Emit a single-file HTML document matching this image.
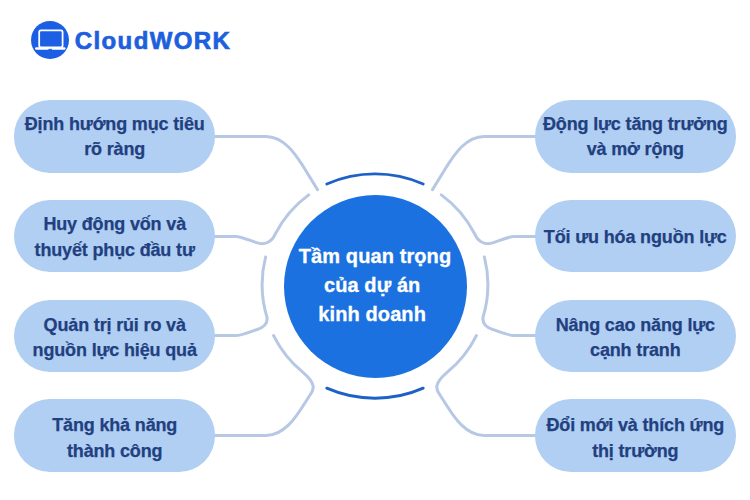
<!DOCTYPE html>
<html><head><meta charset="utf-8">
<style>
html,body{margin:0;padding:0;background:#fff;}
body{width:750px;height:500px;position:relative;overflow:hidden;font-family:"Liberation Sans",sans-serif;}
svg{position:absolute;left:0;top:0;}
.box{position:absolute;width:200.6px;height:72.4px;border-radius:36px;background:#b0cff3;color:#22407f;font-weight:bold;font-size:18px;letter-spacing:-0.16px;-webkit-text-stroke:0.25px #22407f;}
.ln{position:absolute;left:0;right:0;top:0;line-height:20px;text-align:center;white-space:nowrap;}
.l{left:14.4px;}
.r{left:535px;}
.center{position:absolute;left:283.5px;top:194.5px;width:183px;height:183px;border-radius:50%;background:#1b71df;color:#fff;font-weight:bold;font-size:20px;line-height:29px;letter-spacing:0.1px;-webkit-text-stroke:0.3px #fff;display:flex;align-items:center;justify-content:center;text-align:center;}
.logo{position:absolute;left:30.6px;top:20.9px;width:38.6px;height:38.6px;border-radius:50%;background:#1d5fe4;}
.brand{position:absolute;left:74.8px;top:29.2px;font-size:24px;line-height:24px;font-weight:bold;color:#1d5fdd;letter-spacing:1.38px;white-space:nowrap;-webkit-text-stroke:0.7px #1d5fdd;}
</style></head>
<body>
<svg width="750" height="500" viewBox="0 0 750 500">
  <g fill="none" stroke="#b6c8e4" stroke-width="3" stroke-linecap="round" stroke-linejoin="round">
    <g id="left">
      <path d="M215 136.4 L266 136.4 C285 136.4 297.1 156.9 303.6 167 L317.5 189.6"/>
      <path d="M215 236.4 L236 236.4 C240 236.4 244 238.2 256.6 242.7 C265 245.6 272.3 241.5 275.3 233.9 A112.5 112.5 0 0 1 308.7 194.9"/>
      <path d="M215 335.6 L236 335.6 C240 335.6 244 334 256.6 329.7 C264.6 327.3 268 323 266.9 317 A112.5 112.5 0 0 1 265.6 257"/>
      <path d="M215 435.5 L266 435.5 C285 435.5 297.1 415.1 303.6 405 L310.5 394.2 C312.9 390.5 317.9 385 302.7 372.2 A112.5 112.5 0 0 1 273.6 335.6"/>
    </g>
    <g transform="translate(750 0) scale(-1 1)">
      <path d="M215 136.4 L266 136.4 C285 136.4 297.1 156.9 303.6 167 L317.5 189.6"/>
      <path d="M215 236.4 L236 236.4 C240 236.4 244 238.2 256.6 242.7 C265 245.6 272.3 241.5 275.3 233.9 A112.5 112.5 0 0 1 308.7 194.9"/>
      <path d="M215 335.6 L236 335.6 C240 335.6 244 334 256.6 329.7 C264.6 327.3 268 323 266.9 317 A112.5 112.5 0 0 1 265.6 257"/>
      <path d="M215 435.5 L266 435.5 C285 435.5 297.1 415.1 303.6 405 L310.5 394.2 C312.9 390.5 317.9 385 302.7 372.2 A112.5 112.5 0 0 1 273.6 335.6"/>
    </g>
  </g>
  <g fill="none" stroke="#1c62c6" stroke-width="2.9" stroke-linecap="round">
    <path d="M326.8 184 A120 120 0 0 1 423.2 184"/>
    <path d="M326.8 388.2 A120 120 0 0 0 423.2 388.2"/>
  </g>
</svg>

<div class="box l" style="top:100.2px"><div class="ln" style="top:13.8px">Định hướng mục tiêu</div><div class="ln" style="top:38.8px">rõ ràng</div></div>
<div class="box l" style="top:200px"><div class="ln" style="top:14.0px">Huy động vốn và</div><div class="ln" style="top:40.0px">thuyết phục đầu tư</div></div>
<div class="box l" style="top:299.8px"><div class="ln" style="top:15.2px">Quản trị rủi ro và</div><div class="ln" style="top:40.2px">nguồn lực hiệu quả</div></div>
<div class="box l" style="top:399.3px"><div class="ln" style="top:15.7px">Tăng khả năng</div><div class="ln" style="top:41.7px">thành công</div></div>
<div class="box r" style="top:100.2px"><div class="ln" style="top:13.8px">Động lực tăng trưởng</div><div class="ln" style="top:38.8px">và mở rộng</div></div>
<div class="box r" style="top:200px"><div class="ln" style="top:27.0px">Tối ưu hóa nguồn lực</div></div>
<div class="box r" style="top:299.8px"><div class="ln" style="top:15.2px">Nâng cao năng lực</div><div class="ln" style="top:40.2px">cạnh tranh</div></div>
<div class="box r" style="top:399.3px"><div class="ln" style="top:15.7px">Đổi mới và thích ứng</div><div class="ln" style="top:41.7px">thị trường</div></div>

<div class="center"><div style="position:relative;top:-0.7px"><span style="display:block">Tầm quan trọng</span><span style="display:block">của dự án&nbsp;</span><span style="display:block">kinh doanh&nbsp;</span></div></div>

<div class="logo">
  <svg width="38.6" height="38.6" viewBox="0 0 38.6 38.6" style="position:absolute;left:0;top:0">
    <rect x="8.2" y="9.4" width="23.4" height="17" rx="1.8" fill="none" stroke="#fff" stroke-width="1.75"/>
    <path d="M5.3 27.4 H33.3" stroke="#fff" stroke-width="2.5" stroke-linecap="round"/><rect x="17.4" y="27.9" width="3.6" height="1" fill="#1d5fe4"/>
  </svg>
</div>
<div class="brand">CloudWORK</div>
</body></html>
